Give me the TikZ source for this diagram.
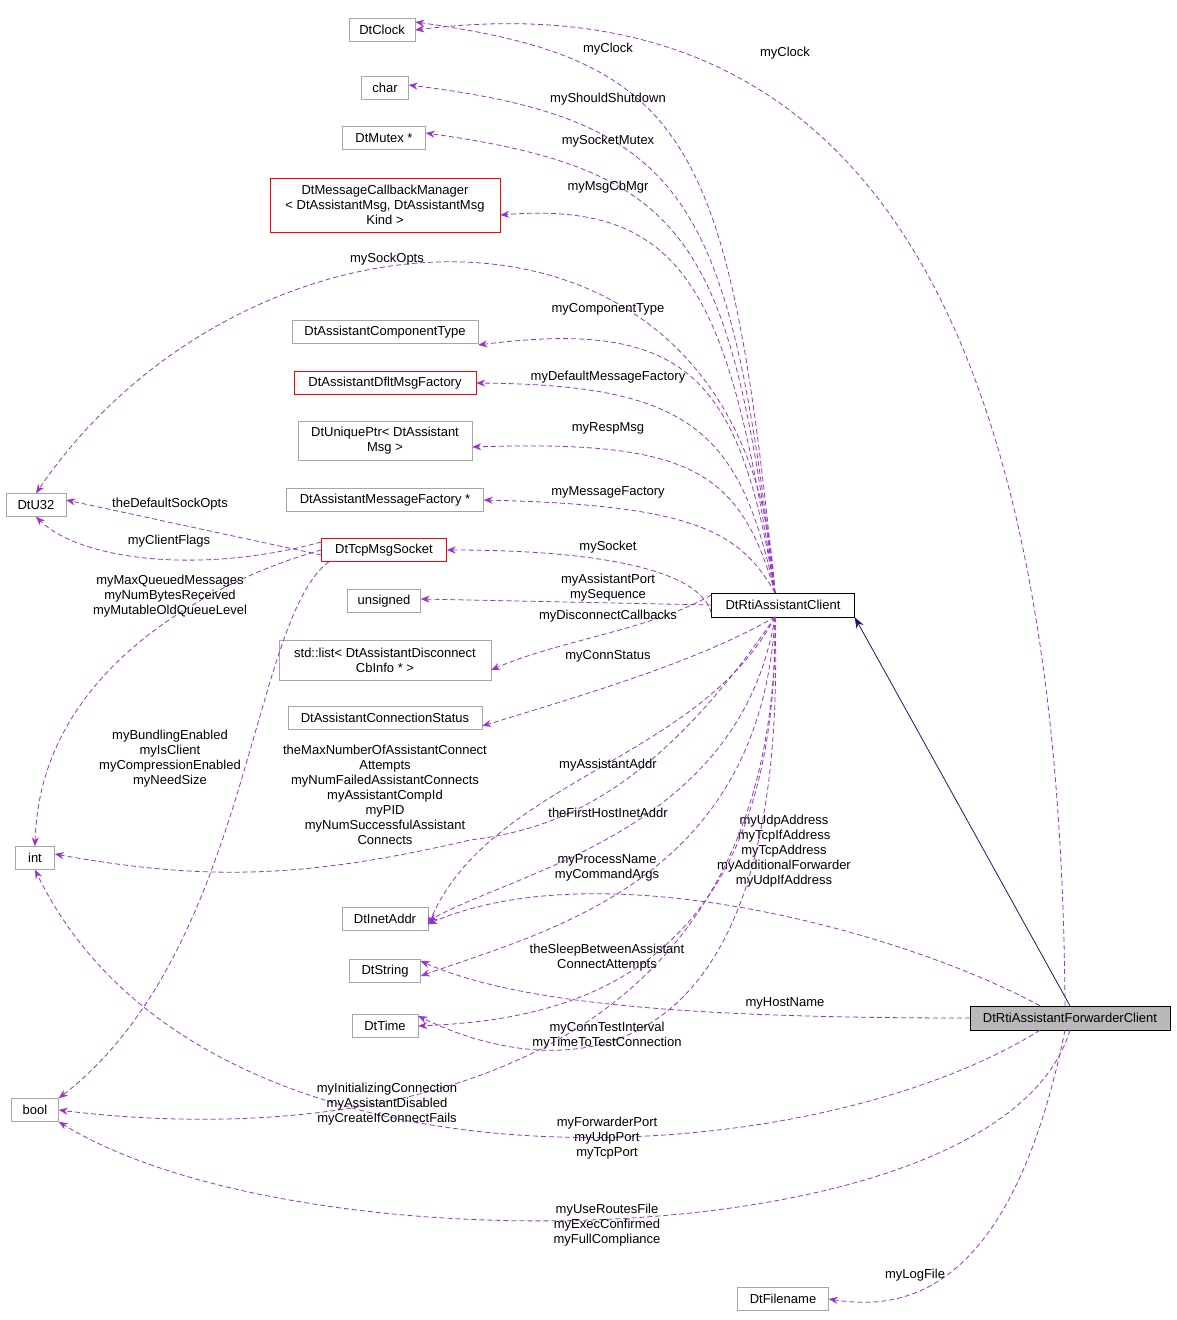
\documentclass[tikz,border=0pt]{standalone}
\usepackage{fontspec}
\setmainfont{Liberation Sans}
\usetikzlibrary{arrows.meta}
\definecolor{mem}{HTML}{9A32CD}
\definecolor{nav}{HTML}{191970}
\begin{document}
\fontsize{13}{15}\selectfont
\begin{tikzpicture}[x=1pt,y=-1pt,
 box/.style={draw=gray!70,fill=white,inner sep=2pt,minimum height=23,align=center,font=\fontsize{13}{15}\selectfont},
 red/.style={box,draw=red},
 m/.style={draw=mem,dashed,dash pattern=on 5pt off 3pt,-{Stealth[length=9pt,width=7pt]},thick},
 lb/.style={align=center,font=\fontsize{13}{15}\selectfont,inner sep=0pt}]
\useasboundingbox (0,0) rectangle (1176,1320);
\node[box,minimum width=66] (clock) at (382,30) {DtClock};
\node[box,minimum width=47] (char) at (385,88) {char};
\node[box,minimum width=83] (mutex) at (384,138) {DtMutex *};
\node[red,minimum width=230,minimum height=54] (mcb) at (385,205) {DtMessageCallbackManager\\{}< DtAssistantMsg, DtAssistantMsg\\Kind >};
\node[box,minimum width=60] (u32) at (36,505) {DtU32};
\node[box,minimum width=186] (comp) at (385,332) {DtAssistantComponentType};
\node[red,minimum width=182] (dflt) at (385,383) {DtAssistantDfltMsgFactory};
\node[box,minimum width=174,minimum height=39] (uptr) at (385,441) {DtUniquePtr< DtAssistant\\Msg >};
\node[box,minimum width=197] (mfac) at (385,500) {DtAssistantMessageFactory *};
\node[red,minimum width=125] (sock) at (384,550) {DtTcpMsgSocket};
\node[box,minimum width=73] (uns) at (384,601) {unsigned};
\node[box,minimum width=212,minimum height=40] (list) at (385,660) {std::list< DtAssistantDisconnect\\CbInfo * >};
\node[box,minimum width=194] (cst) at (385,718) {DtAssistantConnectionStatus};
\node[box,minimum width=39] (int) at (35,858) {int};
\node[box,minimum width=86] (inet) at (385,919) {DtInetAddr};
\node[box,minimum width=71] (str) at (385,971) {DtString};
\node[box,minimum width=66] (time) at (385,1026) {DtTime};
\node[box,minimum width=47] (bool) at (35,1110) {bool};
\node[box,minimum width=91] (fn) at (783,1299) {DtFilename};
\node[box,draw=black,minimum width=143,minimum height=24] (cl) at (783,605) {DtRtiAssistantClient};
\node[box,draw=black,fill=gray!55,minimum width=200,minimum height=24] (fw) at (1070,1018) {DtRtiAssistantForwarderClient};
% forwarder
\draw[nav,thick,-{Stealth[length=11pt,width=8pt]}] (fw.north) -- (cl.south east);
\draw[m] ([xshift=-5]fw.north) .. controls (1060,250) and (820,-20) .. (clock.east);
\node[lb] at (785,53) {myClock};
\draw[m] ([xshift=-30]fw.north) .. controls (900,930) and (600,850) .. ([yshift=-5]inet.east);
\node[lb] at (784,851) {myUdpAddress\\myTcpIfAddress\\myTcpAddress\\myAdditionalForwarder\\myUdpIfAddress};
\draw[m] (fw.west) .. controls (700,1018) and (520,1005) .. ([yshift=10]str.east);
\node[lb] at (785,1003) {myHostName};
\draw[m] ([xshift=-30]fw.south) .. controls (800,1180) and (200,1210) .. (int.south);
\node[lb] at (607,1138) {myForwarderPort\\myUdpPort\\myTcpPort};
\draw[m] (fw.south) .. controls (1000,1260) and (300,1270) .. (bool.south east);
\node[lb] at (607,1225) {myUseRoutesFile\\myExecConfirmed\\myFullCompliance};
\draw[m] ([xshift=-5]fw.south) .. controls (1010,1300) and (900,1310) .. (fn.east);
\node[lb] at (915,1275) {myLogFile};
% socket
\draw[m] ([yshift=-5]sock.west) -- ([yshift=5]u32.east);
\node[lb] at (170,504) {theDefaultSockOpts};
\draw[m] ([yshift=8]sock.west) .. controls (200,575) and (80,560) .. (u32.south);
\node[lb] at (169,541) {myClientFlags};
\draw[m] (sock.west) .. controls (230,575) and (40,660) .. (int.north);
\node[lb] at (170,596) {myMaxQueuedMessages\\myNumBytesReceived\\myMutableOldQueueLevel};
\draw[m] ([xshift=-55]sock.south) .. controls (250,620) and (250,950) .. (bool.north east);
\node[lb] at (170,759) {myBundlingEnabled\\myIsClient\\myCompressionEnabled\\myNeedSize};
% client upper
\coordinate (ct) at (775,593);
\draw[m] (ct) .. controls (730,140) and (690,60) .. ([yshift=8]clock.east);
\node[lb] at (608,49) {myClock};
\draw[m] (ct) .. controls (730,200) and (690,120) .. ([yshift=3]char.east);
\node[lb] at (608,99) {myShouldShutdown};
\draw[m] (ct) .. controls (730,240) and (690,170) .. ([yshift=5]mutex.east);
\node[lb] at (608,141) {mySocketMutex};
\draw[m] (ct) .. controls (730,300) and (690,200) .. ([yshift=-10]mcb.east);
\node[lb] at (608,187) {myMsgCbMgr};
\draw[m] (ct) .. controls (750,160) and (250,180) .. (u32.north);
\node[lb] at (387,259) {mySockOpts};
\draw[m] (ct) .. controls (740,380) and (690,318) .. ([yshift=-13]comp.east);
\node[lb] at (608,309) {myComponentType};
\draw[m] (ct) .. controls (740,430) and (690,385) .. (dflt.east);
\node[lb] at (608,377) {myDefaultMessageFactory};
\draw[m] (ct) .. controls (740,470) and (690,440) .. ([yshift=-6]uptr.east);
\node[lb] at (608,428) {myRespMsg};
\draw[m] (ct) .. controls (740,530) and (690,505) .. (mfac.east);
\node[lb] at (608,492) {myMessageFactory};
\draw[m] ([yshift=-8]cl.west) .. controls (700,570) and (600,550) .. (sock.east);
\node[lb] at (608,547) {mySocket};
% client lower
\draw[m] (cl.west) -- ([yshift=2]uns.east);
\node[lb] at (608,588) {myAssistantPort\\mySequence};
\draw[m] ([yshift=10]cl.west) .. controls (650,630) and (560,640) .. ([yshift=-10]list.east);
\node[lb] at (608,616) {myDisconnectCallbacks};
\coordinate (cb) at (775,617);
\draw[m] (cb) .. controls (700,660) and (600,690) .. ([yshift=-8]cst.east);
\node[lb] at (608,656) {myConnStatus};
\draw[m] (cb) .. controls (650,800) and (550,830) .. (470,840) .. controls (300,880) and (200,880) .. ([yshift=4]int.east);
\node[lb] at (385,795) {theMaxNumberOfAssistantConnect\\Attempts\\myNumFailedAssistantConnects\\myAssistantCompId\\myPID\\myNumSuccessfulAssistant\\Connects};
\draw[m] (cb) .. controls (700,760) and (490,780) .. ([yshift=-6]inet.east);
\node[lb] at (608,765) {myAssistantAddr};
\draw[m] (cb) .. controls (740,830) and (520,870) .. ([yshift=-2]inet.east);
\node[lb] at (608,813) {theFirstHostInetAddr};
\draw[m] (cb) .. controls (760,880) and (550,930) .. ([yshift=-5]str.east);
\node[lb] at (607,868) {myProcessName\\myCommandArgs};
\draw[m] (cb) .. controls (780,990) and (550,1020) .. (time.east);
\node[lb] at (607,958) {theSleepBetweenAssistant\\ConnectAttempts};
\draw[m] (cb) .. controls (790,1100) and (550,1080) .. ([yshift=10]time.east);
\node[lb] at (607,1036) {myConnTestInterval\\myTimeToTestConnection};
\draw[m] (cb) .. controls (780,1120) and (300,1140) .. (bool.east);
\node[lb] at (387,1104) {myInitializingConnection\\myAssistantDisabled\\myCreateIfConnectFails};
\end{tikzpicture}
\end{document}
